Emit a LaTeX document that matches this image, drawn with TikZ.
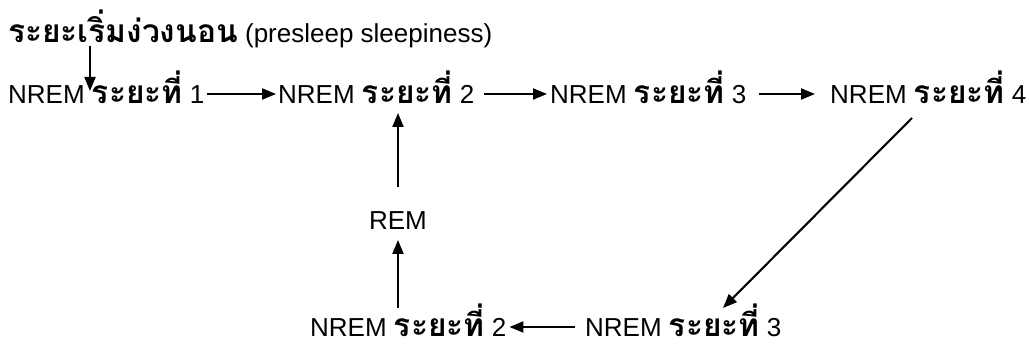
\documentclass[tikz,border=0pt]{standalone}
\usepackage{fontspec}
\setmainfont{Liberation Sans}
\newfontfamily\thaifnt[Script=Thai,Scale=1.22]{Loma}
\newcommand{\thaitxt}[1]{{\thaifnt\bfseries #1}}
\usetikzlibrary{arrows.meta,calc}
\tikzset{
  lbl/.style={inner sep=0pt, anchor=base west, font=\fontsize{26}{30}\selectfont},
  arr/.style={line width=2.1pt, -{Triangle[length=14pt,width=11pt]}}
}
\begin{document}
\begin{tikzpicture}[x=1pt,y=-1pt]
\useasboundingbox[fill=white] (0,0) rectangle (1029,352);
% nodes
\node[lbl] (title) at (8,43) {\thaitxt{ระยะเริ่มง่วงนอน} (presleep sleepiness)};
\node[lbl] (l1) at (8,104) {NREM \thaitxt{ระยะที่} 1};
\node[lbl] (l2) at (278,104) {NREM \thaitxt{ระยะที่} 2};
\node[lbl] (l3) at (550,104) {NREM \thaitxt{ระยะที่} 3};
\node[lbl] (l4) at (830,104) {NREM \thaitxt{ระยะที่} 4};
\node[lbl, anchor=base] (rem) at (398,230) {REM};
\node[lbl] (b2) at (310,337) {NREM \thaitxt{ระยะที่} 2};
\node[lbl] (b3) at (585,337) {NREM \thaitxt{ระยะที่} 3};
% free ends
\coordinate (d0) at (90,46);
\coordinate (d1) at (90,91);
\coordinate (g0) at (912,118);
\coordinate (g1) at (723,308);
% connectors
\draw[arr] (d0) -- (d1);
\draw[arr] ($(l1.base east)+(3,-10)$) -- ($(l2.base west)+(-2,-10)$);
\draw[arr] ($(l2.base east)+(10,-10)$) -- ($(l3.base west)+(-3,-10)$);
\draw[arr] ($(l3.base east)+(13,-10)$) -- ($(l4.base west)+(-15,-10)$);
\draw[arr] (g0) -- (g1);
\draw[arr] ($(b3.base west)+(-10,-10)$) -- ($(b2.base east)+(3,-10)$);
\draw[arr] ($(rem.base |- b2.base)+(0,-29)$) -- ($(rem.base)+(0,10)$);
\draw[arr] ($(rem.base)+(0,-43)$) -- ($(rem.base |- l2.base)+(0,9)$);
\end{tikzpicture}
\end{document}
